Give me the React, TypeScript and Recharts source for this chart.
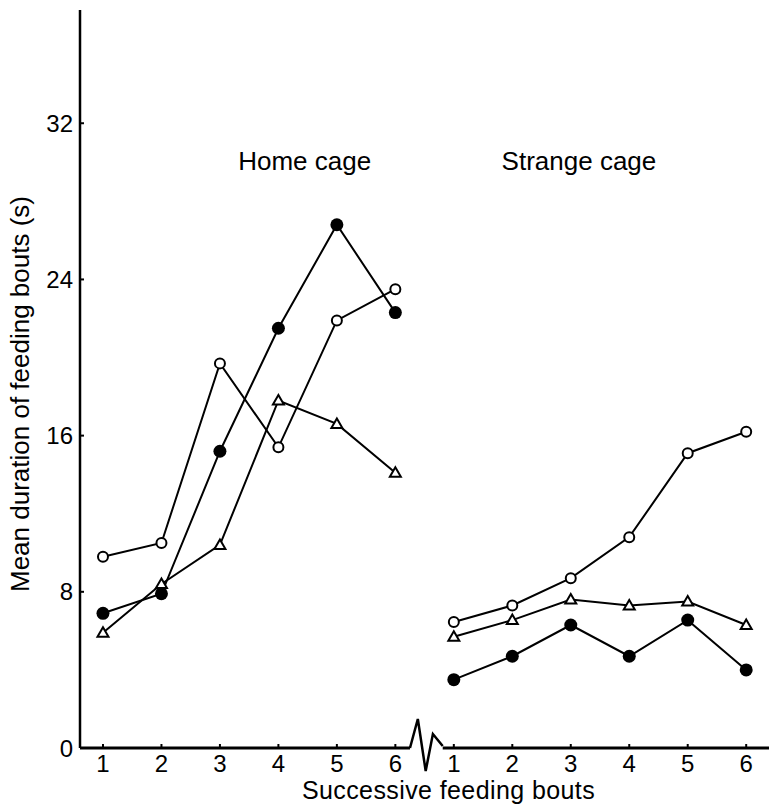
import { LineChart, Line, XAxis, YAxis, ReferenceLine, ReferenceDot } from "recharts";

// successive feeding bouts, same 1..6 in each cage
const bouts = [1, 2, 3, 4, 5, 6];

// home cage (s)
const homeOpen = [9.8, 10.5, 19.7, 15.4, 21.9, 23.5];
const homeFilled = [6.9, 7.9, 15.2, 21.5, 26.8, 22.3];
const homeTriangle = [5.9, 8.4, 10.4, 17.8, 16.6, 14.1];

// strange cage (s)
const strangeOpen = [6.45, 7.3, 8.7, 10.8, 15.1, 16.2];
const strangeFilled = [3.5, 4.7, 6.3, 4.7, 6.55, 4.0];
const strangeTriangle = [5.7, 6.55, 7.6, 7.3, 7.5, 6.3];

const yTicks = [0, 8, 16, 24, 32];

// one slot per bout, home cage first then strange cage
const data = [
  ...bouts.map((b, i) => ({
    slot: i + 1,
    bout: b,
    homeOpen: homeOpen[i],
    homeFilled: homeFilled[i],
    homeTriangle: homeTriangle[i],
  })),
  ...bouts.map((b, i) => ({
    slot: i + 7,
    bout: b,
    strangeOpen: strangeOpen[i],
    strangeFilled: strangeFilled[i],
    strangeTriangle: strangeTriangle[i],
  })),
];
const slots = data.map((d) => d.slot);

const FONT = '"Liberation Sans", Arial, Helvetica, sans-serif';
const X_MIN = 0.607;
const X_MAX = 12.39;
const BREAK_FROM = 6.25;
const BREAK_TO = 6.81;

const OpenDot = (p) =>
  p.cy == null ? null : (
    <circle key={p.index} cx={p.cx} cy={p.cy} r={5} fill="#fff" stroke="#000" strokeWidth={2} />
  );

const FilledDot = (p) =>
  p.cy == null ? null : <circle key={p.index} cx={p.cx} cy={p.cy} r={6.5} fill="#000" />;

const TriangleDot = (p) =>
  p.cy == null ? null : (
    <path
      key={p.index}
      d={`M${p.cx},${p.cy - 5.5} L${p.cx + 5.5},${p.cy + 4} L${p.cx - 5.5},${p.cy + 4} Z`}
      fill="#fff"
      stroke="#000"
      strokeWidth={2}
      strokeLinejoin="miter"
    />
  );

// zigzag axis break between the two cages
const AxisBreak = (p) => {
  const w = p.x2 - p.x1;
  const y = p.y1;
  const pts = [
    [p.x1, y],
    [p.x1 + w * 0.24, y - 29],
    [p.x1 + w * 0.48, y + 23],
    [p.x1 + w * 0.7, y - 14],
    [p.x2, y - 2],
  ];
  return (
    <polyline
      points={pts.map((q) => q.join(",")).join(" ")}
      fill="none"
      stroke="#000"
      strokeWidth={2.5}
      strokeLinejoin="miter"
    />
  );
};

const caption = (text) => (p) =>
  (
    <text x={p.cx} y={p.cy} textAnchor="middle" fontSize={26} fill="#000" fontFamily={FONT}>
      {text}
    </text>
  );

const series = [
  { key: "homeOpen", dot: OpenDot },
  { key: "homeFilled", dot: FilledDot },
  { key: "homeTriangle", dot: TriangleDot },
  { key: "strangeOpen", dot: OpenDot },
  { key: "strangeFilled", dot: FilledDot },
  { key: "strangeTriangle", dot: TriangleDot },
];

export default function App() {
  return (
    <div style={{ position: "absolute", left: 0, top: 0, background: "#fff" }}>
      <LineChart
        width={769}
        height={807}
        data={data}
        margin={{ top: 10, right: 0, bottom: 0, left: 0 }}
        style={{ fontFamily: FONT }}
      >
        <XAxis
          type="number"
          dataKey="slot"
          domain={[X_MIN, X_MAX]}
          allowDataOverflow
          ticks={slots}
          tickFormatter={(v) => String(v > 6 ? v - 6 : v)}
          axisLine={false}
          tickLine={{ stroke: "#000", strokeWidth: 2 }}
          tickSize={-4}
          tickMargin={11}
          tick={{ fontSize: 24, fill: "#000" }}
          height={59}
          label={{
            content: (p) => (
              <text
                x={p.viewBox.x + p.viewBox.width / 2 + 24}
                y={799}
                textAnchor="middle"
                fontSize={25}
                fill="#000"
                fontFamily={FONT}
                letterSpacing={0.4}
              >
                Successive feeding bouts
              </text>
            ),
          }}
        />
        <YAxis
          type="number"
          domain={[0, 37.8]}
          allowDataOverflow
          ticks={yTicks}
          width={80}
          axisLine={{ stroke: "#000", strokeWidth: 2.5 }}
          tickLine={{ stroke: "#000", strokeWidth: 2 }}
          tickSize={-4}
          tickMargin={11}
          tick={{ fontSize: 24, fill: "#000" }}
          label={{
            content: () => (
              <text
                x={20}
                y={394}
                transform="rotate(-90 20 394)"
                textAnchor="middle"
                dominantBaseline="central"
                fontSize={26}
                fill="#000"
                fontFamily={FONT}
              >
                Mean duration of feeding bouts (s)
              </text>
            ),
          }}
        />

        {/* x axis line, broken between the cages */}
        <ReferenceLine
          segment={[{ x: X_MIN, y: 0 }, { x: BREAK_FROM, y: 0 }]}
          stroke="#000"
          strokeWidth={3}
          ifOverflow="visible"
        />
        <ReferenceLine
          segment={[{ x: BREAK_TO, y: 0 }, { x: X_MAX, y: 0 }]}
          stroke="#000"
          strokeWidth={3}
          ifOverflow="visible"
        />
        <ReferenceLine
          segment={[{ x: BREAK_FROM, y: 0 }, { x: BREAK_TO, y: 0 }]}
          shape={AxisBreak}
          ifOverflow="visible"
        />

        <ReferenceDot x={4.45} y={29.6} r={0} shape={caption("Home cage")} ifOverflow="visible" />
        <ReferenceDot x={9.14} y={29.6} r={0} shape={caption("Strange cage")} ifOverflow="visible" />

        {series.map((s) => (
          <Line
            key={s.key}
            type="linear"
            dataKey={s.key}
            stroke="#000"
            strokeWidth={2}
            dot={s.dot}
            activeDot={false}
            connectNulls={false}
            isAnimationActive={false}
          />
        ))}
      </LineChart>
    </div>
  );
}
